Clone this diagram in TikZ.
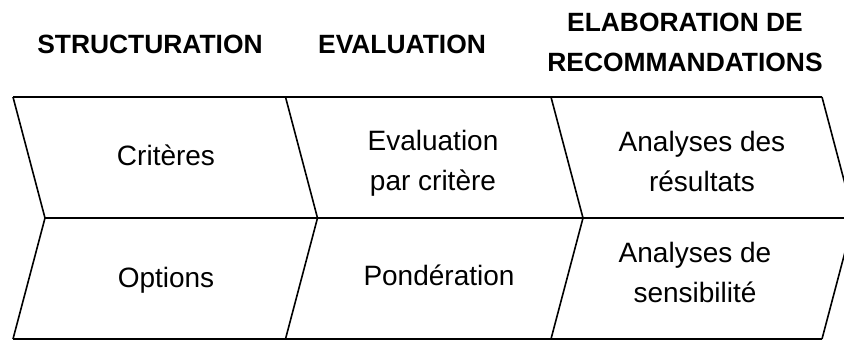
\documentclass[tikz,border=0pt]{standalone}
\usepackage{fontspec}
\setmainfont{Liberation Sans}
\tikzstyle{header} = [font=\fontsize{26.4}{40}\selectfont\bfseries, align=center, inner sep=0pt]
\tikzstyle{cell} = [font=\fontsize{28}{40}\selectfont, align=center, inner sep=0pt]
\tikzstyle{border} = [line width=1.6pt, line join=miter]

\begin{document}
\begin{tikzpicture}[x=1pt, y=-1pt]
        \useasboundingbox (0,0) rectangle (844,341);
        \clip (0,0) rectangle (844,341);

        % phase titles
        \node (headStruct) [header] at (150,44) {STRUCTURATION};
        \node (headEval) [header] at (402,44) {EVALUATION};
        \node (headReco) [header] at (685,42.5) {ELABORATION DE\\RECOMMANDATIONS};

        % chevron band: long edges, then the zigzag separators
        \draw [border, line width=2pt] (13,97) -- (822,97);
        \draw [border] (45,218) -- (854,218);
        \draw [border, line width=2pt] (13,339) -- (822,339);
        \draw [border] (13,97) -- (45,218) -- (13,339);
        \draw [border] (285.5,97) -- (317.5,218) -- (285.5,339);
        \draw [border] (551,97) -- (583,218) -- (551,339);
        \draw [border] (822,97) -- (854,218) -- (822,339);

        % cell contents
        \node (criteres) [cell] at (166,155) {Critères};
        \node (options) [cell] at (166,280) {Options};
        \node (evalCrit) [cell] at (433,163) {Evaluation\\par critère};
        \node (ponderation) [cell] at (439,275) {Pondération};
        \node (resultats) [cell] at (702,161) {Analyses des\\résultats};
        \node (sensib) [cell] at (695,272.5) {Analyses de\\sensibilité};
    \end{tikzpicture}
\end{document}
